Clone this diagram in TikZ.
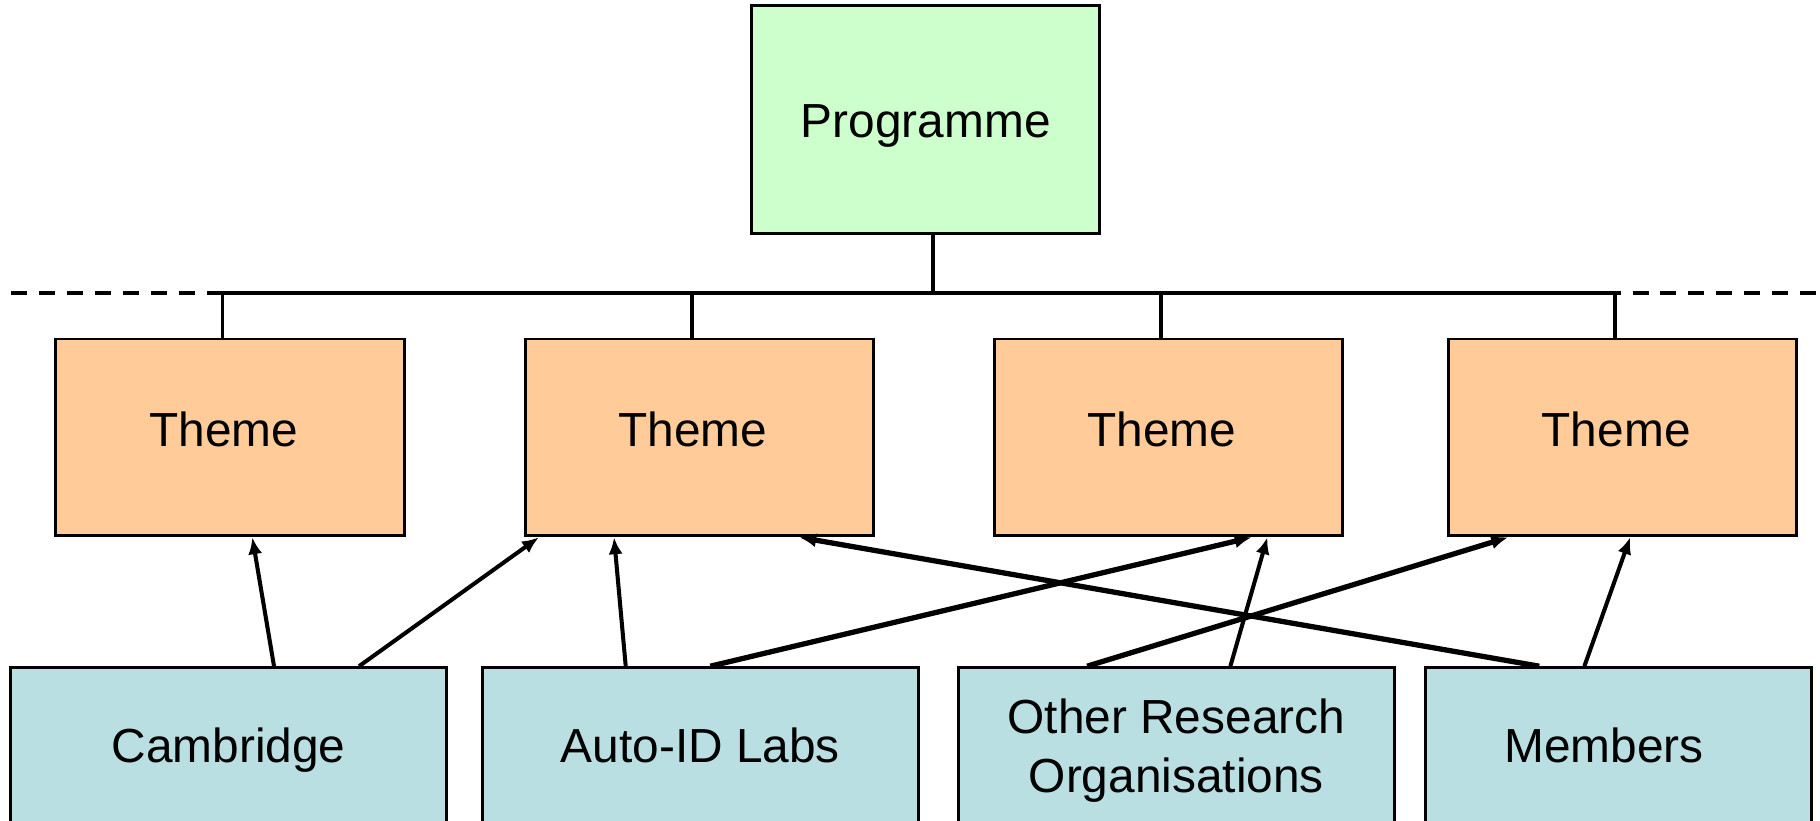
\documentclass[tikz,border=0pt]{standalone}
\usepackage{fontspec}
\setmainfont{Liberation Sans}
\usepackage{tikz}
\usetikzlibrary{positioning, arrows.meta}

\definecolor{progfill}{HTML}{CCFFCC}
\definecolor{themefill}{HTML}{FFCC99}
\definecolor{partnerfill}{HTML}{B9DFE3}

\tikzset{
    box/.style={draw, line width=0.85pt, inner sep=0pt, minimum width=3.48cm,
        font=\fontsize{13.6}{16.8}\selectfont},
    prog/.style={box, fill=progfill, minimum height=2.27cm, text height=13.5pt, text depth=3pt},
    theme/.style={box, fill=themefill, minimum height=1.967cm, text height=10pt, text depth=4.7pt,
        execute at begin node=\hspace*{-3.6pt}},
    partner/.style={box, fill=partnerfill, minimum width=4.36cm, minimum height=1.653cm,
        align=center, text height=11pt, text depth=4.1pt},
    bus/.style={line width=1.1pt},
    busdash/.style={bus, dash pattern=on 4.55pt off 3.4pt},
    link/.style={line width=1.15pt, -{Latex[length=4.8pt, width=4pt]}},
    cross/.style={link, line width=1.5pt},
}

\begin{document}
\begin{tikzpicture}[x=0.01cm, y=-0.01cm, on grid]
    \useasboundingbox (0,0) rectangle (1820,821);
    \clip (0,0) rectangle (1820,821);

    \node[prog] (prog) at (925.8,119.5) {Programme};
    \node[theme] (t1) at (230,437.4) {Theme};
    \node[theme] (t2) [right=4.69cm of t1] {Theme};
    \node[theme] (t3) [right=4.686cm of t2] {Theme};
    \node[theme] (t4) [right=4.541cm of t3] {Theme};

    \node[partner] (cam) at (228.5,750.4) {Cambridge};
    \node[partner] (lab) [right=4.715cm of cam] {Auto-ID Labs};
    \node[partner, text height={}, text depth={}] (oth) [right=4.758cm of lab] {Other Research\\Organisations};
    \node[partner, minimum width=3.86cm, execute at begin node=\hspace*{-8.5pt}] (mem) [right=4.422cm of oth] {Members};

    % bus line
    \coordinate (bus) at (0,293.3);
    \coordinate (dashL) at (11,293.3);
    \coordinate (dashR) at (1820,293.3);
    \draw[busdash] (dashL) -- (dashR);
    \coordinate (progstem) at ([xshift=0.75mm]prog.south);
    \draw[bus] (progstem) -- (progstem |- bus);
    \foreach \i in {1,...,4} {
        \coordinate (stem\i) at ([xshift=-0.75mm]t\i.north);
        \draw[bus] (stem\i) -- (stem\i |- bus);
    }
    \draw[bus] (stem1 |- bus) -- (stem4 |- bus);

    \path
    ([xshift=4.55mm]cam.north) edge[link] ([xshift=2.23mm]t1.south)
        ([xshift=13.05mm]cam.north) edge[link] ([xshift=-16.03mm]t2.south)
    ([xshift=-7.45mm]lab.north) edge[link] ([xshift=-8.52mm]t2.south)
        ([xshift=1mm]lab.north) edge[cross] ([xshift=8.34mm]t3.south)
    ([xshift=5.4mm]oth.north) edge[link] ([xshift=9.92mm]t3.south)
        ([xshift=-8.92mm]oth.north) edge[cross] ([xshift=-11.43mm]t4.south)
    ([xshift=-7.95mm]mem.north) edge[cross] ([xshift=10mm]t2.south)
        ([xshift=-3.44mm]mem.north) edge[link] ([xshift=0.77mm]t4.south);
\end{tikzpicture}
\end{document}
